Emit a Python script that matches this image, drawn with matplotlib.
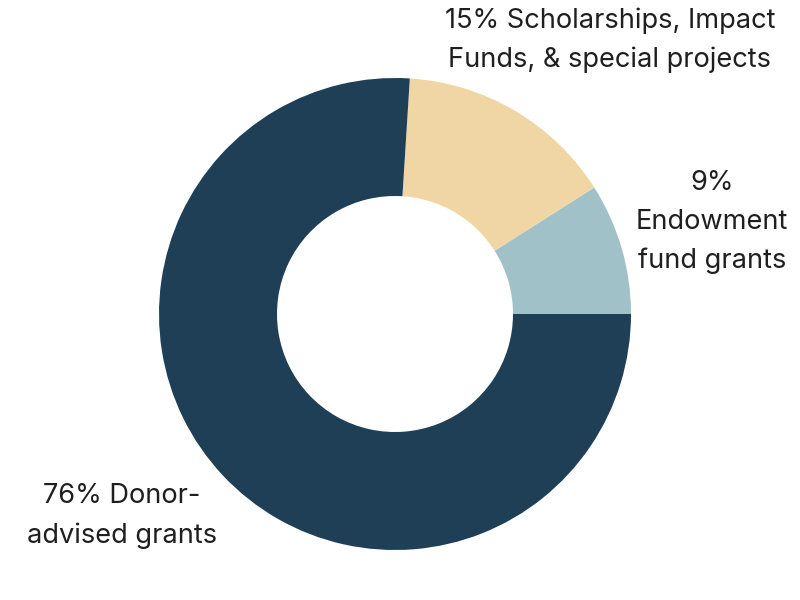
import matplotlib
matplotlib.use("Agg")
import matplotlib.pyplot as plt

plt.rcParams['font.family'] = ['Inter', 'DejaVu Sans']

# slice shares, counter-clockwise from 3 o'clock
shares = [9, 15, 76]
labels = ["9%\nEndowment\nfund grants",
          "15% Scholarships, Impact\nFunds, & special projects",
          "76% Donor-\nadvised grants"]
colors = ["#a0c1c7", "#f0d5a5", "#1e3f56"]

fig = plt.figure(figsize=(8, 6), dpi=100)
ax = fig.add_axes([0, 0, 1, 1])

ax.pie(shares, colors=colors, startangle=0, counterclock=True,
       center=(395, 286), radius=236,
       wedgeprops=dict(width=118, linewidth=0), frame=True)
ax.set_xlim(0, 800)
ax.set_ylim(0, 600)
ax.set_aspect('equal')
ax.axis('off')

# label positions (pixel coords of text centres)
label_pos = [(712, 378), (610, 560), (122, 84)]
for txt, (x, y) in zip(labels, label_pos):
    ax.text(x, y, txt, ha='center', va='center', fontsize=19.6,
            color='#1f1f1f', linespacing=1.62)

fig.savefig("out.png", dpi=100)
